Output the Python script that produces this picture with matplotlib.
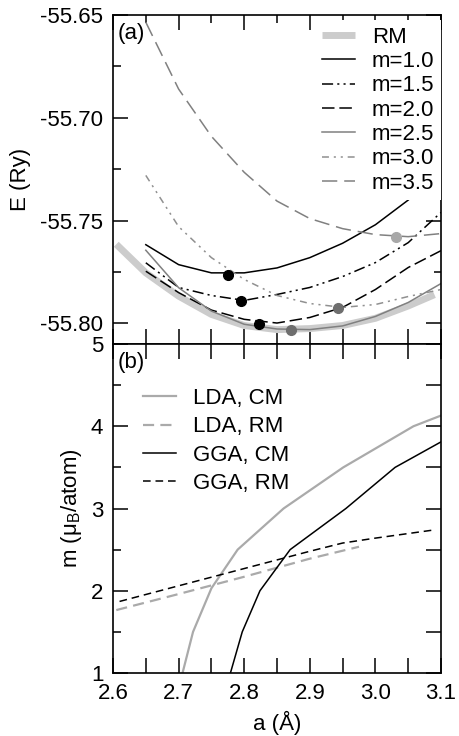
import matplotlib
matplotlib.use('Agg')
import matplotlib.pyplot as plt

plt.rcParams['font.family'] = ['Liberation Sans', 'DejaVu Sans']
plt.rcParams['font.size'] = 16
plt.rcParams['mathtext.fontset'] = 'custom'
plt.rcParams['mathtext.rm'] = 'Liberation Sans'
plt.rcParams['lines.scale_dashes'] = False

# ---- panel (a): total energy vs lattice constant for fixed moments ----
a_grid = [2.65, 2.70, 2.75, 2.80, 2.85, 2.90, 2.95, 3.00, 3.05, 3.10]
E_m10 = [-55.7617, -55.7714, -55.7754, -55.7754, -55.7730, -55.7680, -55.7610, -55.7520, -55.7400, -55.7260]
E_m15 = [-55.7705, -55.7825, -55.7864, -55.7888, -55.7859, -55.7825, -55.7772, -55.7704, -55.7607, -55.7460]
E_m20 = [-55.7746, -55.7850, -55.7935, -55.7980, -55.7998, -55.7971, -55.7922, -55.7835, -55.7728, -55.7646]
E_m25 = [-55.7644, -55.7826, -55.7940, -55.8004, -55.8027, -55.8030, -55.8012, -55.7966, -55.7898, -55.7806]
E_m30 = [-55.7280, -55.7529, -55.7680, -55.7786, -55.7864, -55.7903, -55.7922, -55.7908, -55.7869, -55.7835]
E_m35 = [-55.6535, -55.6860, -55.7090, -55.7265, -55.7405, -55.7490, -55.7539, -55.7568, -55.7578, -55.7563]

a_rm = [2.605, 2.65, 2.70, 2.75, 2.80, 2.85, 2.90, 2.95, 3.00, 3.05, 3.09]
E_rm = [-55.7615, -55.7754, -55.7867, -55.7956, -55.8010, -55.8030, -55.8025, -55.8010, -55.7975, -55.7915, -55.7860]

min_a = [2.776, 2.795, 2.8226, 2.8713, 2.9435, 3.0314]
min_E = [-55.7762, -55.7892, -55.8002, -55.8032, -55.7924, -55.7579]
min_col = ['black', 'black', 'black', '#6e6e6e', '#6e6e6e', '#a8a8a8']

# ---- panel (b): moment vs lattice constant ----
a_lda_cm = [2.706, 2.722, 2.750, 2.790, 2.860, 2.951, 3.058, 3.100]
m_lda_cm = [1.0, 1.5, 2.03, 2.5, 3.0, 3.5, 4.0, 4.13]
a_lda_rm = [2.605, 2.70, 2.80, 2.90, 2.975]
m_lda_rm = [1.765, 1.96, 2.17, 2.39, 2.535]
a_gga_cm = [2.779, 2.797, 2.824, 2.870, 2.955, 3.030, 3.100]
m_gga_cm = [1.0, 1.5, 2.0, 2.5, 3.0, 3.5, 3.81]
a_gga_rm = [2.61, 2.70, 2.80, 2.90, 2.95, 3.00, 3.09]
m_gga_rm = [1.87, 2.06, 2.27, 2.48, 2.58, 2.64, 2.74]

fig = plt.figure(figsize=(4.59, 7.36), dpi=100)
ax1 = fig.add_axes([0.2462, 0.5326, 0.7146, 0.4470])
ax2 = fig.add_axes([0.2462, 0.0856, 0.7146, 0.4470])

ax1.plot(a_rm, E_rm, color='#cccccc', lw=5, solid_capstyle='butt', label='RM')
ax1.plot(a_grid, E_m10, color='black', lw=1.1, label='m=1.0')
ax1.plot(a_grid, E_m15, color='black', lw=1.1, ls=(0, (8, 3, 1.5, 3, 1.5, 3)), label='m=1.5')
ax1.plot(a_grid, E_m20, color='black', lw=1.1, ls=(0, (9, 3.5)), label='m=2.0')
ax1.plot(a_grid, E_m25, color='#808080', lw=1.1, label='m=2.5')
ax1.plot(a_grid, E_m30, color='#909090', lw=1.1, ls=(0, (5, 3.5, 1.5, 3.5, 1.5, 3.5)), label='m=3.0')
ax1.plot(a_grid, E_m35, color='#808080', lw=1.1, ls=(0, (11, 5)), label='m=3.5')
for xa, ya, c in zip(min_a, min_E, min_col):
    ax1.plot(xa, ya, 'o', color=c, ms=7, zorder=5)

ax1.set_xlim(2.6, 3.1)
ax1.set_ylim(-55.81, -55.65)
ax1.set_yticks([-55.80, -55.75, -55.70, -55.65])
ax1.set_yticklabels(['-55.80', '-55.75', '-55.70', '-55.65'])
ax1.set_yticks([-55.775, -55.725, -55.675], minor=True)
ax1.set_ylabel('E (Ry)', labelpad=7)
ax1.text(0.015, 0.975, '(a)', transform=ax1.transAxes, va='top', ha='left')
leg1 = ax1.legend(loc='upper right', bbox_to_anchor=(1.0, 0.985), borderaxespad=0, borderpad=0.3,
                  handlelength=1.5, handletextpad=0.75, labelspacing=0.15,
                  fancybox=False, framealpha=1, facecolor='white')
leg1.get_frame().set_linewidth(0)

ax2.plot(a_lda_cm, m_lda_cm, color='#aaaaaa', lw=1.6, label='LDA, CM')
ax2.plot(a_lda_rm, m_lda_rm, color='#aaaaaa', lw=1.6, ls=(0, (8, 4.5)), label='LDA, RM')
ax2.plot(a_gga_cm, m_gga_cm, color='black', lw=1.1, label='GGA, CM')
ax2.plot(a_gga_rm, m_gga_rm, color='black', lw=1.1, ls=(0, (5.5, 3.5)), label='GGA, RM')
ax2.set_xlim(2.6, 3.1)
ax2.set_ylim(1, 5)
ax2.set_yticks([1, 2, 3, 4, 5])
ax2.set_yticks([1.5, 2.5, 3.5, 4.5], minor=True)
ax2.set_ylabel('m (μ$_\\mathrm{B}$/atom)', labelpad=5)
ax2.set_xlabel('a (Å)', labelpad=5)
ax2.text(0.015, 0.975, '(b)', transform=ax2.transAxes, va='top', ha='left')
ax2.legend(loc='upper left', bbox_to_anchor=(0.09, 0.866), borderaxespad=0, borderpad=0,
           handlelength=1.5, handletextpad=0.75, labelspacing=0.33, frameon=False)

for ax in (ax1, ax2):
    ax.set_xticks([2.6, 2.7, 2.8, 2.9, 3.0, 3.1])
    ax.set_xticklabels(['2.6', '2.7', '2.8', '2.9', '3.0', '3.1'])
    ax.set_xticks([2.65, 2.75, 2.85, 2.95, 3.05], minor=True)
    ax.tick_params(which='both', direction='in', top=True, right=True, width=1.1, pad=7)
    ax.tick_params(which='major', length=10.8)
    ax.tick_params(which='minor', length=5.4)
    for s in ax.spines.values():
        s.set_linewidth(1.2)
ax1.tick_params(labelbottom=False)

fig.canvas.draw()
# bottom-edge minor ticks are drawn as long as the major ones
for ax in (ax1, ax2):
    for t in ax.xaxis.get_minor_ticks():
        t.tick1line.set_markersize(10.8)
for t in ax2.xaxis.get_minor_ticks():
    t.tick2line.set_markersize(10.8)
for t in ax2.yaxis.get_minor_ticks():
    t.tick2line.set_markersize(10.8)

fig.savefig('out.png', dpi=100)
